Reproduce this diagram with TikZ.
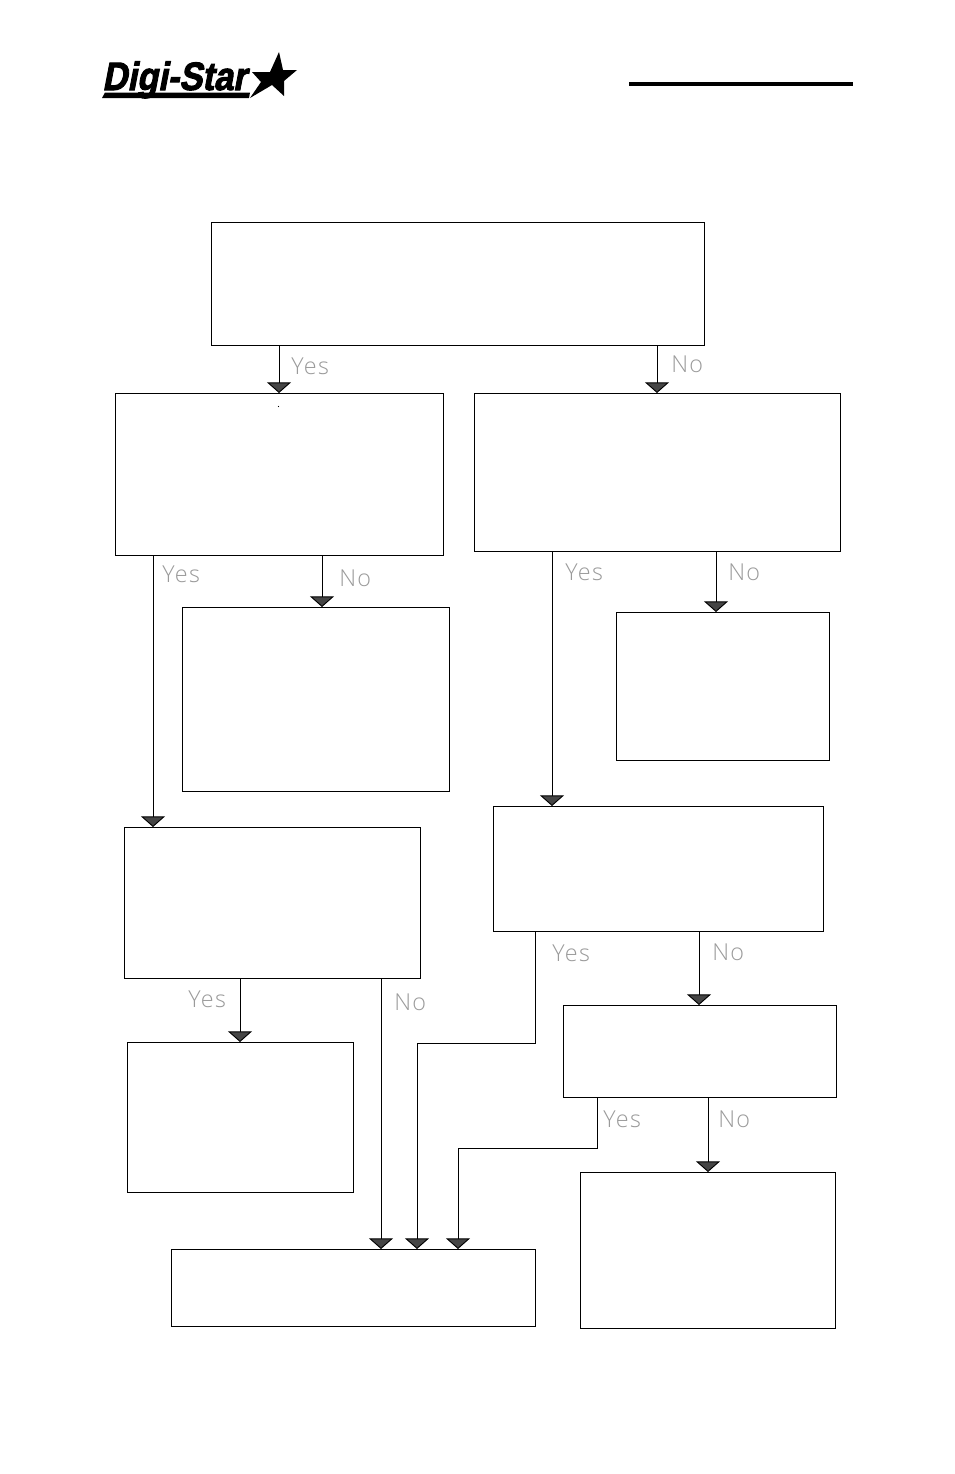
\documentclass[tikz,border=0pt]{standalone}
\usepackage{fontspec}
\setmainfont{Liberation Sans}
\newfontfamily\labfont[LetterSpace=6]{Open Sans Light}
\newfontfamily\logofont[FakeBold=2.6,FakeSlant=0.22]{Liberation Sans Bold}
\usetikzlibrary{arrows.meta}
\definecolor{labgray}{HTML}{9A9A9A}
\definecolor{headgray}{HTML}{454545}
\tikzset{
  x=0.75pt,y=-0.75pt,
  flowbox/.style={draw=black,line width=0.75pt,fill=none,inner sep=0pt,outer sep=0pt},
  flowline/.style={draw=black,line width=0.7pt,-{Triangle[length=8pt,width=18pt,fill=headgray]}},
  flowlab/.style={inner sep=0pt,text=labgray,font=\labfont\fontsize{17.5}{19}\selectfont},
}
\newcommand{\bx}[5]{\node[flowbox,minimum width={(#4-#2)*0.75pt},minimum height={(#5-#3)*0.75pt}] (#1) at ({(#2+#4)/2},{(#3+#5)/2}) {};}
\newcommand{\conn}[3]{\coordinate (tx) at (#2,0); \draw[flowline] (#1.south -| tx) -- (#3.north -| tx);}
\newcommand{\lab}[4]{\node[flowlab,anchor=west] (#1) at (#2,#3) {#4};}
\begin{document}
\begin{tikzpicture}
\useasboundingbox (0,0) rectangle (954,1474);
% logo
\node[inner sep=0pt,anchor=base west] (logotext) at (102,90) {\resizebox{108pt}{21.5pt}{\logofont Digi-Star}};
\fill[black] (105,92.5) -- (250,92.5) -- (249,98) -- (102,98) -- cycle;
\fill[black] (279,52) -- (283,70) -- (297,70) -- (284,81) -- (284,96) -- (272,85) -- (250,98) -- (261,82) -- (252,72) -- (270,72) -- cycle;
\draw[line width=2.6pt] (629,84) -- (853,84);
% boxes
\bx{A}{211}{222}{704}{345}
\bx{B}{115}{393}{443}{555}
\bx{C}{474}{393}{840}{551}
\bx{D}{182}{607}{449}{791}
\bx{E}{616}{612}{829}{760}
\bx{F}{124}{827}{420}{978}
\bx{G}{493}{806}{823}{931}
\bx{H}{127}{1042}{353}{1192}
\bx{I}{563}{1005}{836}{1097}
\bx{J}{580}{1172}{835}{1328}
\bx{K}{171}{1249}{535}{1326}
\fill[black] (278.5,406.5) circle (0.6);
% connectors
\conn{A}{279}{B}
\conn{A}{657}{C}
\conn{B}{153}{F}
\conn{B}{322}{D}
\conn{C}{552}{G}
\conn{C}{716}{E}
\conn{F}{240}{H}
\conn{F}{381}{K}
\conn{G}{699}{I}
\conn{I}{708}{J}
\coordinate (g1) at (535,1043);
\coordinate (g2) at (417,1043);
\draw[flowline] (G.south -| g1) -- (g1) -- (g2) -- (K.north -| g2);
\coordinate (i1) at (597,1148);
\coordinate (i2) at (458,1148);
\draw[flowline] (I.south -| i1) -- (i1) -- (i2) -- (K.north -| i2);
% labels
\lab{l1}{291}{366}{Yes}
\lab{l2}{671}{364}{No}
\lab{l3}{162}{574}{Yes}
\lab{l4}{339}{578}{No}
\lab{l5}{565}{572}{Yes}
\lab{l6}{728}{572}{No}
\lab{l7}{188}{999}{Yes}
\lab{l8}{394}{1002}{No}
\lab{l9}{552}{953}{Yes}
\lab{l10}{712}{952}{No}
\lab{l11}{603}{1119}{Yes}
\lab{l12}{718}{1119}{No}
\end{tikzpicture}
\end{document}
